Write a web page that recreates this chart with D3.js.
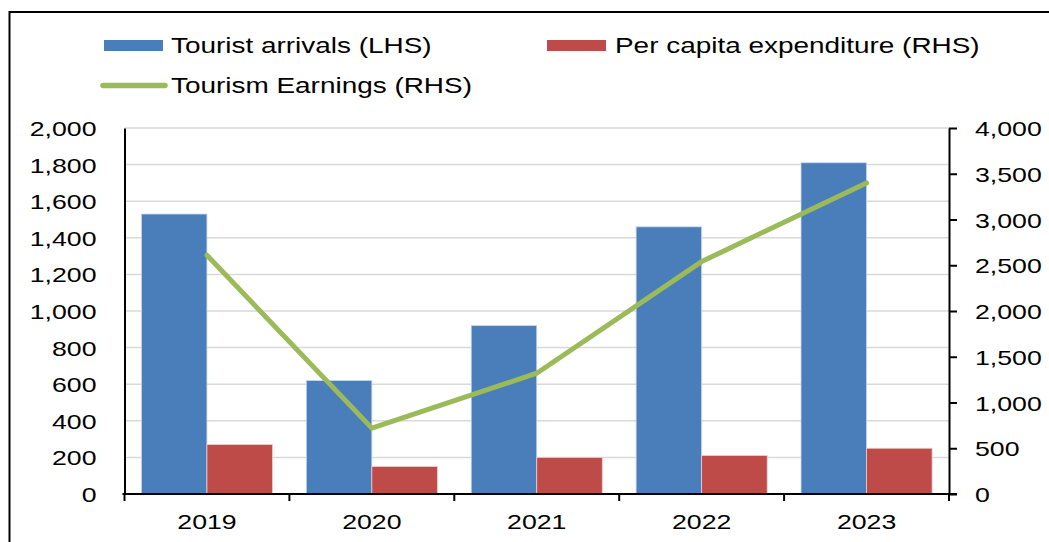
<!DOCTYPE html>
<html>
<head>
<meta charset="utf-8">
<script src="https://cdn.jsdelivr.net/npm/d3@7"></script>
<style>
  html, body { margin: 0; padding: 0; background: #fff; }
  svg { display: block; }
  text { font-family: "Liberation Sans", Arial, Helvetica, sans-serif; fill: #000; }
</style>
</head>
<body>
<svg id="chart" width="1049" height="542"></svg>
<script>
// Annual tourism figures
const years = ["2019", "2020", "2021", "2022", "2023"];
const touristArrivals = [1530, 620, 920, 1460, 1810];     // left axis
const perCapitaExpenditure = [540, 300, 400, 420, 500];   // right axis
const tourismEarnings = [2610, 720, 1320, 2540, 3400];    // right axis

const leftTicks = [0, 200, 400, 600, 800, 1000, 1200, 1400, 1600, 1800, 2000];
const rightTicks = [0, 500, 1000, 1500, 2000, 2500, 3000, 3500, 4000];

const seriesNames = ["Tourist arrivals (LHS)", "Per capita expenditure (RHS)", "Tourism Earnings (RHS)"];
const colors = { arrivals: "#4a7ebb", expenditure: "#be4b48", earnings: "#9bbb59" };

const svg = d3.select("#chart");
const plot = { left: 124.5, right: 949, top: 128, bottom: 494 };
const stretch = 1.27; // wide type face

// outer frame
svg.append("rect")
  .attr("x", 9.5).attr("y", 12).attr("width", 1100).attr("height", 600)
  .attr("fill", "none").attr("stroke", "#000").attr("stroke-width", 2);

const x = d3.scaleBand().domain(years).range([plot.left, plot.right]).paddingInner(0).paddingOuter(0);
const x1 = d3.scaleBand().domain(["arrivals", "expenditure"]).range([0, x.bandwidth()]).paddingInner(0).paddingOuter(0.258);
const yL = d3.scaleLinear().domain([0, 2000]).range([plot.bottom, plot.top]);
const yR = d3.scaleLinear().domain([0, 4000]).range([plot.bottom, plot.top]);

// gridlines from the left axis
svg.append("g")
  .selectAll("line")
  .data(leftTicks.filter(d => d > 0))
  .join("line")
  .attr("x1", plot.left).attr("x2", plot.right)
  .attr("y1", d => yL(d)).attr("y2", d => yL(d))
  .attr("stroke", "#d9d9d9").attr("stroke-width", 1.5);

// bars
const groups = svg.append("g").selectAll("g")
  .data(years)
  .join("g")
  .attr("transform", d => `translate(${x(d)},0)`);

groups.append("rect")
  .attr("x", x1("arrivals"))
  .attr("width", x1.bandwidth())
  .attr("y", (d, i) => yL(touristArrivals[i]))
  .attr("height", (d, i) => yL(0) - yL(touristArrivals[i]))
  .attr("fill", colors.arrivals)
  .attr("stroke", "#c8d8ee").attr("stroke-width", 0.8);

groups.append("rect")
  .attr("x", x1("expenditure"))
  .attr("width", x1.bandwidth())
  .attr("y", (d, i) => yR(perCapitaExpenditure[i]))
  .attr("height", (d, i) => yR(0) - yR(perCapitaExpenditure[i]))
  .attr("fill", colors.expenditure)
  .attr("stroke", "#eecdcc").attr("stroke-width", 0.8);

// earnings line
const line = d3.line()
  .x((d, i) => x(years[i]) + x.bandwidth() / 2)
  .y(d => yR(d));
svg.append("path")
  .datum(tourismEarnings)
  .attr("d", line)
  .attr("fill", "none")
  .attr("stroke", colors.earnings)
  .attr("stroke-width", 5)
  .attr("stroke-linejoin", "round")
  .attr("stroke-linecap", "round");

function stretchText(sel, anchorX) {
  sel.each(function () {
    const t = d3.select(this);
    const tx = +t.attr("x") || 0;
    t.attr("x", tx / stretch).attr("transform", `scale(${stretch},1)`);
  });
}

// left axis
const leftAxis = svg.append("g")
  .attr("transform", `translate(${plot.left},0)`)
  .call(d3.axisLeft(yL).tickValues(leftTicks).tickFormat(d3.format(",")).tickSize(0).tickPadding(28));
leftAxis.select(".domain").attr("stroke", "#000").attr("stroke-width", 2);
leftAxis.selectAll("text").attr("font-size", 21).attr("dy", "0.36em")
  .style("font-family", "'Liberation Sans', Arial, sans-serif");
stretchText(leftAxis.selectAll("text"));

// right axis
const rightAxis = svg.append("g")
  .attr("transform", `translate(${plot.right},0)`)
  .call(d3.axisRight(yR).tickValues(rightTicks).tickFormat(d3.format(",")).tickSizeInner(8).tickSizeOuter(0).tickPadding(18));
rightAxis.select(".domain").attr("stroke", "#000").attr("stroke-width", 2);
rightAxis.selectAll(".tick line").attr("stroke", "#000").attr("stroke-width", 2);
rightAxis.selectAll("text").attr("font-size", 21).attr("dy", "0.36em")
  .style("font-family", "'Liberation Sans', Arial, sans-serif");
stretchText(rightAxis.selectAll("text"));

// category axis
const bottomAxis = svg.append("g")
  .attr("transform", `translate(0,${plot.bottom})`)
  .call(d3.axisBottom(x).tickSize(0).tickPadding(20));
bottomAxis.select(".domain").attr("stroke", "#000").attr("stroke-width", 2)
  .attr("d", `M${plot.left - 2},0H${plot.right + 8}`);
bottomAxis.selectAll("text").attr("font-size", 21)
  .style("font-family", "'Liberation Sans', Arial, sans-serif");
bottomAxis.selectAll(".tick").each(function (d) {
  const cx = x(d) + x.bandwidth() / 2;
  d3.select(this).attr("transform", null);
  d3.select(this).select("text").attr("transform", `translate(${cx},0) scale(${stretch},1)`);
});
// boundary ticks between categories
svg.append("g").selectAll("line")
  .data(years.concat(["end"]))
  .join("line")
  .attr("x1", (d, i) => i < years.length ? x(d) : plot.right)
  .attr("x2", (d, i) => i < years.length ? x(d) : plot.right)
  .attr("y1", plot.bottom).attr("y2", plot.bottom + 7)
  .attr("stroke", "#000").attr("stroke-width", 2);

// legend
const legend = svg.append("g");
const legendItems = [
  { name: seriesNames[0], key: "arrivals", type: "rect", sx: 104, tx: 171, y: 45.5 },
  { name: seriesNames[1], key: "expenditure", type: "rect", sx: 547, tx: 615, y: 45.5 },
  { name: seriesNames[2], key: "earnings", type: "line", sx: 101, tx: 171, y: 85.5 }
];
legendItems.forEach(it => {
  if (it.type === "rect") {
    legend.append("rect").attr("x", it.sx).attr("y", it.y - 5.5).attr("width", 59).attr("height", 11)
      .attr("fill", colors[it.key]);
  } else {
    legend.append("line").attr("x1", it.sx + 2).attr("x2", it.sx + 64).attr("y1", it.y).attr("y2", it.y)
      .attr("stroke", colors[it.key]).attr("stroke-width", 5.5).attr("stroke-linecap", "round");
  }
  legend.append("text")
    .attr("transform", `translate(${it.tx},${it.y + 7.8}) scale(${stretch},1)`)
    .attr("font-size", 22)
    .text(it.name);
});
</script>
</body>
</html>
